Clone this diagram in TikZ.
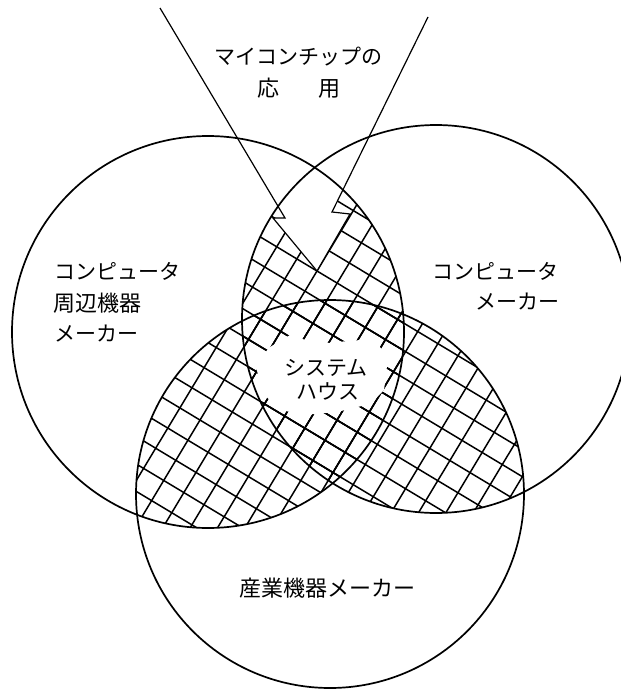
\documentclass[tikz,border=0pt]{standalone}
\usepackage{fontspec}
\newfontfamily\jp{Noto Sans CJK JP}
\newcommand\hatchgrid{%
  \begin{scope}[shift={(317,271)},rotate=-31]
    \foreach \i in {-40,...,40}{%
      \draw[hatchline] (\i*23.5,-900) -- (\i*23.5,900);
      \draw[hatchline] (-900,\i*23.5) -- (900,\i*23.5);
    }
  \end{scope}}
\begin{document}
\begin{tikzpicture}[x=1pt,y=-1pt,
  circ/.style={line width=1.7pt},
  hatchline/.style={line width=1.5pt},
  funnel/.style={line width=1.2pt},
  kana/.style={font=\jp\fontsize{21pt}{24pt}\selectfont, inner sep=0pt},
  kanji/.style={font=\jp\fontsize{22pt}{24pt}\selectfont, inner sep=0pt}]
\useasboundingbox (0,0) rectangle (621,691);
\coordinate (cL) at (208,332);
\coordinate (cR) at (436,319);
\coordinate (cB) at (330,494);
% hatching of the pairwise overlaps
\begin{scope}
  \clip (cL) circle (196pt);
  \clip (cR) circle (194pt);
  \hatchgrid
\end{scope}
\begin{scope}
  \clip (cL) circle (196pt);
  \clip (cB) circle (194pt);
  \hatchgrid
\end{scope}
\begin{scope}
  \clip (cR) circle (194pt);
  \clip (cB) circle (194pt);
  \hatchgrid
\end{scope}
% funnel interior and central blank
\coordinate (f1) at (160,8);
\coordinate (f2) at (285,218);
\coordinate (f3) at (273,218);
\coordinate (apex) at (317,271);
\coordinate (f5) at (350,214);
\coordinate (f6) at (332,212);
\coordinate (f7) at (428,17);
\fill[white] (f1) -- (f2) -- (f3) -- (apex) -- (f5) -- (f6) -- (f7) -- cycle;
\fill[white] (290,335) -- (318,344) -- (348,341) -- (374,339) -- (388,358) -- (384,390)
  -- (370,404) -- (337,412) -- (302,415) -- (282,410) -- (264,395) -- (255,364) -- (270,347) -- cycle;
% circles
\draw[circ] (cL) circle (196pt);
\draw[circ] (cR) circle (194pt);
\draw[circ] (cB) circle (194pt);
% funnel lines
\draw[funnel] (f1) -- (f2) -- (f3) -- (apex) -- (f5) -- (f6) -- (f7);
% labels
\node[kana] (t1) at (298,57) {マイコンチップの};
\node[kanji] (t2) at (299,88) {応　\hspace{17pt}用};
\node[kana, anchor=west] (l1) at (54,271) {コンピュータ};
\node[kanji, anchor=west] (l2) at (53,303) {周辺機器};
\node[kana, anchor=west] (l3) at (54,334) {メーカー};
\node[kana, anchor=east] (r1) at (559,271) {コンピュータ};
\node[kana, anchor=east] (r2) at (560,302) {メーカー};
\node[kana] (s1) at (326,368) {システム};
\node[kana] (s2) at (328,391) {ハウス};
\node[kanji] (b1) at (327,588) {産業機器メーカー};
\end{tikzpicture}
\end{document}
